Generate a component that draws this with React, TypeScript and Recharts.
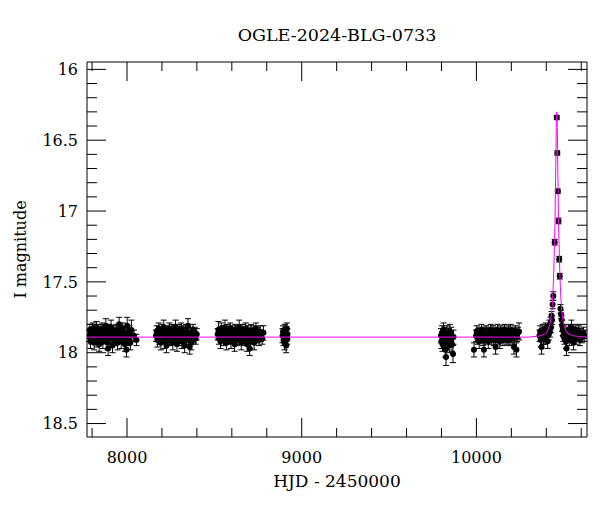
import { ScatterChart, Scatter, XAxis, YAxis, ErrorBar, Label } from 'recharts'

const FONT = '"DejaVu Serif", serif'

// [HJD - 2450000, I mag, error]
const season2017: number[][] = [
  [7783, 17.88, 0.04], [7787, 17.84, 0.04], [7791, 17.92, 0.05], [7795, 17.86, 0.04], [7799, 17.9, 0.04], [7804, 17.83, 0.04],
  [7808, 17.87, 0.04], [7812, 17.93, 0.05], [7816, 17.85, 0.04], [7820, 17.89, 0.04], [7825, 17.82, 0.04], [7829, 17.91, 0.05],
  [7833, 17.86, 0.04], [7837, 17.88, 0.04], [7841, 17.94, 0.05], [7846, 17.84, 0.04], [7850, 17.87, 0.04], [7854, 17.9, 0.04],
  [7858, 17.83, 0.04], [7862, 17.92, 0.05], [7867, 17.86, 0.04], [7871, 17.89, 0.04], [7875, 17.85, 0.04], [7879, 17.81, 0.05],
  [7883, 17.88, 0.04], [7888, 17.93, 0.05], [7892, 17.97, 0.05], [7896, 17.84, 0.04], [7900, 17.9, 0.04], [7904, 17.86, 0.04],
  [7909, 17.82, 0.05], [7913, 17.89, 0.04], [7917, 17.95, 0.05], [7921, 17.87, 0.04], [7925, 17.85, 0.04], [7930, 17.88, 0.04],
  [7934, 17.91, 0.04], [7938, 17.84, 0.04], [7942, 17.87, 0.04], [7946, 17.93, 0.05], [7951, 17.86, 0.04], [7955, 17.8, 0.05],
  [7959, 17.89, 0.04], [7963, 17.85, 0.04], [7967, 17.92, 0.05], [7972, 17.87, 0.04], [7976, 17.83, 0.04], [7980, 17.9, 0.04],
  [7984, 17.86, 0.04], [7988, 17.94, 0.05], [7993, 17.88, 0.04], [7997, 17.98, 0.05], [8001, 17.81, 0.06], [8005, 17.91, 0.04],
  [8009, 17.87, 0.04], [8014, 17.85, 0.04], [8019, 17.93, 0.05], [8025, 17.84, 0.07], [8040, 17.88, 0.04], [8054, 17.91, 0.04],
]

const season2018: number[][] = [
  [8166, 17.88, 0.04], [8170, 17.85, 0.04], [8174, 17.91, 0.05], [8178, 17.87, 0.04], [8182, 17.83, 0.04], [8186, 17.9, 0.04],
  [8190, 17.86, 0.04], [8194, 17.93, 0.05], [8198, 17.88, 0.04], [8202, 17.84, 0.04], [8206, 17.89, 0.04], [8210, 17.82, 0.05],
  [8214, 17.92, 0.05], [8218, 17.86, 0.04], [8222, 17.88, 0.04], [8226, 17.95, 0.05], [8230, 17.85, 0.04], [8234, 17.9, 0.04],
  [8238, 17.87, 0.04], [8242, 17.83, 0.04], [8246, 17.91, 0.04], [8250, 17.86, 0.04], [8254, 17.89, 0.04], [8258, 17.84, 0.04],
  [8262, 17.93, 0.05], [8266, 17.87, 0.04], [8270, 17.85, 0.04], [8274, 17.9, 0.04], [8278, 17.82, 0.05], [8282, 17.88, 0.04],
  [8286, 17.94, 0.05], [8290, 17.86, 0.04], [8294, 17.89, 0.04], [8298, 17.84, 0.04], [8302, 17.91, 0.04], [8306, 17.87, 0.04],
  [8310, 17.83, 0.04], [8314, 17.92, 0.05], [8318, 17.86, 0.04], [8322, 17.89, 0.04], [8326, 17.85, 0.04], [8330, 17.95, 0.05],
  [8334, 17.88, 0.04], [8338, 17.84, 0.04], [8342, 17.9, 0.04], [8346, 17.87, 0.04], [8349, 17.81, 0.05], [8354, 17.91, 0.04],
  [8359, 17.96, 0.05], [8363, 17.86, 0.04], [8368, 17.93, 0.05], [8373, 17.88, 0.04], [8378, 17.84, 0.04], [8383, 17.89, 0.04],
  [8388, 17.86, 0.04], [8393, 17.9, 0.04], [8399, 17.87, 0.04],
]

const season2019: number[][] = [
  [8519, 17.87, 0.04], [8523, 17.84, 0.06], [8527, 17.9, 0.04], [8531, 17.86, 0.04], [8535, 17.92, 0.05], [8540, 17.83, 0.04],
  [8544, 17.88, 0.04], [8548, 17.85, 0.04], [8552, 17.91, 0.04], [8557, 17.87, 0.04], [8561, 17.82, 0.05], [8565, 17.89, 0.04],
  [8569, 17.93, 0.05], [8574, 17.86, 0.04], [8578, 17.84, 0.04], [8582, 17.9, 0.04], [8586, 17.87, 0.04], [8591, 17.83, 0.04],
  [8595, 17.92, 0.05], [8599, 17.88, 0.04], [8603, 17.85, 0.04], [8608, 17.89, 0.04], [8612, 17.86, 0.04], [8616, 17.94, 0.05],
  [8620, 17.84, 0.04], [8625, 17.88, 0.04], [8629, 17.91, 0.04], [8633, 17.85, 0.04], [8637, 17.87, 0.04], [8642, 17.82, 0.05],
  [8646, 17.9, 0.04], [8650, 17.86, 0.04], [8654, 17.93, 0.05], [8659, 17.88, 0.04], [8663, 17.84, 0.04], [8667, 17.89, 0.04],
  [8671, 17.86, 0.04], [8676, 17.91, 0.04], [8680, 17.83, 0.04], [8684, 17.87, 0.04], [8688, 17.94, 0.05], [8693, 17.85, 0.04],
  [8697, 17.89, 0.04], [8702, 17.97, 0.05], [8706, 17.92, 0.05], [8710, 17.84, 0.04], [8714, 17.88, 0.04], [8719, 17.9, 0.04],
  [8723, 17.85, 0.04], [8728, 17.93, 0.05], [8733, 17.87, 0.04], [8738, 17.83, 0.04], [8743, 17.89, 0.04], [8749, 17.86, 0.04],
  [8755, 17.91, 0.04], [8761, 17.85, 0.04], [8767, 17.88, 0.04], [8774, 17.9, 0.04], [8781, 17.86, 0.05],
]

const season2020: number[][] = [
  [8890, 17.88, 0.05], [8893, 17.85, 0.04], [8896, 17.91, 0.04], [8899, 17.87, 0.04], [8902, 17.93, 0.05], [8905, 17.84, 0.04],
  [8907, 17.89, 0.04], [8909, 17.86, 0.04], [8911, 17.95, 0.05], [8913, 17.88, 0.04], [8915, 17.83, 0.04], [8917, 17.9, 0.04],
  [8918, 17.87, 0.04],
]

const season2022: number[][] = [
  [9797, 17.88, 0.05], [9800, 17.92, 0.05], [9803, 17.86, 0.05], [9806, 17.94, 0.05], [9809, 17.89, 0.05], [9812, 17.84, 0.05],
  [9815, 17.91, 0.05], [9818, 17.87, 0.05], [9822, 17.98, 0.05], [9826, 18.03, 0.06], [9829, 17.9, 0.05], [9832, 17.86, 0.05],
  [9836, 17.93, 0.05], [9840, 17.88, 0.05], [9844, 17.95, 0.05], [9848, 17.85, 0.05], [9852, 17.91, 0.05], [9856, 17.87, 0.05],
  [9860, 17.94, 0.05], [9866, 18.01, 0.06], [9869, 17.89, 0.05],
]

const season2023: number[][] = [
  [9986, 17.98, 0.05], [9998, 17.88, 0.04], [10002, 17.85, 0.04], [10007, 17.9, 0.04], [10011, 17.87, 0.04], [10016, 17.92, 0.05],
  [10020, 17.86, 0.04], [10024, 17.89, 0.04], [10029, 17.84, 0.04], [10033, 17.88, 0.04], [10038, 17.91, 0.04], [10043, 17.98, 0.05],
  [10046, 17.86, 0.04], [10051, 17.89, 0.04], [10055, 17.85, 0.04], [10060, 17.9, 0.04], [10064, 17.87, 0.04], [10068, 17.92, 0.05],
  [10073, 17.86, 0.04], [10077, 17.88, 0.04], [10082, 17.84, 0.04], [10086, 17.9, 0.04], [10090, 17.87, 0.04], [10095, 17.85, 0.04],
  [10099, 17.91, 0.04], [10104, 17.88, 0.04], [10110, 17.96, 0.05], [10112, 17.86, 0.04], [10117, 17.89, 0.04], [10121, 17.84, 0.04],
  [10126, 17.9, 0.04], [10130, 17.87, 0.04], [10134, 17.92, 0.05], [10139, 17.85, 0.04], [10143, 17.88, 0.04], [10148, 17.86, 0.04],
  [10152, 17.91, 0.04], [10156, 17.87, 0.04], [10161, 17.84, 0.04], [10165, 17.89, 0.04], [10170, 17.86, 0.04], [10174, 17.9, 0.04],
  [10178, 17.88, 0.04], [10183, 17.85, 0.04], [10187, 17.91, 0.04], [10192, 17.87, 0.04], [10196, 17.84, 0.04], [10200, 17.89, 0.04],
  [10205, 17.86, 0.04], [10209, 17.9, 0.04], [10215, 17.96, 0.05], [10218, 17.87, 0.04], [10222, 17.85, 0.04], [10229, 17.98, 0.05],
  [10232, 17.88, 0.04], [10238, 17.86, 0.04], [10244, 17.85, 0.06],
]

const season2024: number[][] = [
  [10361, 17.88, 0.04], [10365, 17.85, 0.04], [10368, 17.91, 0.05], [10373, 17.96, 0.05], [10376, 17.87, 0.04], [10380, 17.84, 0.04],
  [10384, 17.9, 0.04], [10388, 17.86, 0.04], [10392, 17.89, 0.05], [10396, 17.83, 0.04], [10400, 17.88, 0.04], [10404, 17.85, 0.04],
  [10408, 17.92, 0.05], [10411, 17.84, 0.04], [10414, 17.87, 0.04], [10418, 17.81, 0.04], [10421, 17.85, 0.04], [10424, 17.79, 0.04],
  [10427, 17.82, 0.04], [10430, 17.74, 0.03], [10433, 17.77, 0.03], [10436, 17.66, 0.03], [10440, 17.6, 0.03], [10448, 17.22, 0.02],
  [10460, 16.34, 0.015], [10463, 16.59, 0.015], [10466, 16.86, 0.015], [10470, 17.07, 0.02], [10474, 17.34, 0.02], [10477, 17.46, 0.02],
  [10481, 17.69, 0.03], [10485, 17.73, 0.03], [10488, 17.77, 0.03], [10491, 17.81, 0.04], [10494, 17.84, 0.04], [10497, 17.88, 0.04],
  [10500, 17.85, 0.04], [10504, 17.9, 0.04], [10508, 17.87, 0.04], [10512, 17.92, 0.05], [10516, 17.97, 0.05], [10520, 17.86, 0.04],
  [10524, 17.89, 0.04], [10528, 17.84, 0.04], [10532, 17.91, 0.04], [10536, 17.87, 0.04], [10540, 17.85, 0.04], [10544, 17.82, 0.05],
  [10548, 17.89, 0.04], [10552, 17.86, 0.04], [10556, 17.93, 0.05], [10560, 17.88, 0.04], [10565, 17.84, 0.04], [10570, 17.9, 0.04],
  [10575, 17.86, 0.04], [10580, 17.88, 0.04], [10586, 17.85, 0.04], [10592, 17.91, 0.04], [10598, 17.87, 0.04], [10605, 17.89, 0.04],
  [10612, 17.86, 0.04], [10620, 17.88, 0.04],
]

// microlensing model curve, [HJD - 2450000, I mag]
const modelCurve: number[][] = [
  [7771, 17.89], [10300, 17.89], [10370, 17.88], [10402, 17.86], [10421, 17.8], [10432, 17.705], [10438, 17.58],
  [10443, 17.42], [10447, 17.23], [10450, 17.08], [10452, 16.87], [10455, 16.64], [10457, 16.41], [10460, 16.3],
  [10463, 16.41], [10465, 16.64], [10468, 16.87], [10470, 17.08], [10473, 17.23], [10477, 17.42], [10482, 17.58],
  [10488, 17.705], [10499, 17.8], [10518, 17.86], [10550, 17.88], [10633, 17.89],
]

const xDomain = [7771, 10633]
const yDomain = [15.948, 18.595]
const xTicks = [7800, 8000, 8200, 8400, 8600, 8800, 9000, 9200, 9400, 9600, 9800, 10000, 10200, 10400, 10600]
const yTicks = [16, 16.1, 16.2, 16.3, 16.4, 16.5, 16.6, 16.7, 16.8, 16.9, 17, 17.1, 17.2, 17.3, 17.4, 17.5,
  17.6, 17.7, 17.8, 17.9, 18, 18.1, 18.2, 18.3, 18.4, 18.5]

const points = [...season2017, ...season2018, ...season2019, ...season2020, ...season2022, ...season2023, ...season2024]
  .map(([t, mag, err]) => ({ t, mag, err }))
const model = modelCurve.map(([t, mag]) => ({ t, mag }))

const isMajorX = (v: number) => v % 1000 === 0
const isMajorY = (v: number) => Math.abs(v * 2 - Math.round(v * 2)) < 1e-6

const BottomTick = (p: any) => {
  const v = p.payload.value
  const major = isMajorX(v)
  return (
    <g>
      <line x1={p.x} y1={p.y} x2={p.x} y2={p.y - (major ? 19 : 9)} stroke="#000" />
      {major && (
        <text x={p.x} y={p.y + 26} textAnchor="middle" fontSize={16} fontFamily={FONT} fill="#000">
          {v}
        </text>
      )}
    </g>
  )
}

const TopTick = (p: any) => {
  const major = isMajorX(p.payload.value)
  return <line x1={p.x} y1={p.y} x2={p.x} y2={p.y + (major ? 19 : 9)} stroke="#000" />
}

const LeftTick = (p: any) => {
  const v = p.payload.value
  const major = isMajorY(v)
  return (
    <g>
      <line x1={p.x} y1={p.y} x2={p.x + (major ? 19 : 10)} y2={p.y} stroke="#000" />
      {major && (
        <text x={p.x - 9} y={p.y} dy="0.36em" textAnchor="end" fontSize={16} fontFamily={FONT} fill="#000">
          {v}
        </text>
      )}
    </g>
  )
}

const RightTick = (p: any) => {
  const major = isMajorY(p.payload.value)
  return <line x1={p.x} y1={p.y} x2={p.x - (major ? 19 : 10)} y2={p.y} stroke="#000" />
}

export default function App() {
  return (
    <div style={{ position: 'absolute', left: 0, top: 0, background: '#fff' }}>
      <ScatterChart width={600} height={512} margin={{ top: 61, right: 12, bottom: 0, left: 0 }}>
        <XAxis
          xAxisId="bottom"
          type="number"
          dataKey="t"
          domain={xDomain}
          allowDataOverflow
          ticks={xTicks}
          interval={0}
          height={75}
          tickSize={0}
          tickMargin={0}
          tickLine={false}
          axisLine={{ stroke: '#000' }}
          tick={BottomTick}
        >
          <Label
            content={({ viewBox }: any) => (
              <text x={viewBox.x + viewBox.width / 2} y={viewBox.y + 50} textAnchor="middle" fontSize={17} fontFamily={FONT} fill="#000">
                HJD - 2450000
              </text>
            )}
          />
        </XAxis>
        <XAxis
          xAxisId="top"
          orientation="top"
          type="number"
          dataKey="t"
          domain={xDomain}
          allowDataOverflow
          ticks={xTicks}
          interval={0}
          height={1}
          tickSize={0}
          tickMargin={0}
          tickLine={false}
          axisLine={{ stroke: '#000' }}
          tick={TopTick}
        >
          <Label
            content={({ viewBox }: any) => (
              <text x={viewBox.x + viewBox.width / 2} y={viewBox.y - 20} textAnchor="middle" fontSize={17.5} fontFamily={FONT} fill="#000">
                OGLE-2024-BLG-0733
              </text>
            )}
          />
        </XAxis>
        <YAxis
          yAxisId="left"
          type="number"
          dataKey="mag"
          reversed
          domain={yDomain}
          allowDataOverflow
          ticks={yTicks}
          interval={0}
          width={87}
          tickSize={0}
          tickMargin={0}
          tickLine={false}
          axisLine={{ stroke: '#000' }}
          tick={LeftTick}
        >
          <Label
            content={({ viewBox }: any) => {
              const cx = 26
              const cy = viewBox.y + viewBox.height / 2
              return (
                <text x={cx} y={cy} transform={`rotate(-90, ${cx}, ${cy})`} textAnchor="middle" fontSize={16} fontFamily={FONT} fill="#000">
                  I magnitude
                </text>
              )
            }}
          />
        </YAxis>
        <YAxis
          yAxisId="right"
          orientation="right"
          type="number"
          dataKey="mag"
          reversed
          domain={yDomain}
          allowDataOverflow
          ticks={yTicks}
          interval={0}
          width={1}
          tickSize={0}
          tickMargin={0}
          tickLine={false}
          axisLine={{ stroke: '#000' }}
          tick={RightTick}
        />
        <Scatter
          data={points}
          xAxisId="bottom"
          yAxisId="left"
          isAnimationActive={false}
          shape={(p: any) => <circle cx={p.cx} cy={p.cy} r={3} fill="#000" />}
        >
          <ErrorBar dataKey="err" direction="y" width={3} stroke="#000" strokeWidth={1} />
        </Scatter>
        <Scatter
          data={model}
          xAxisId="bottom"
          yAxisId="left"
          isAnimationActive={false}
          line={{ stroke: '#ff00ff', strokeWidth: 1 }}
          shape={() => <g />}
        />
      </ScatterChart>
    </div>
  )
}
